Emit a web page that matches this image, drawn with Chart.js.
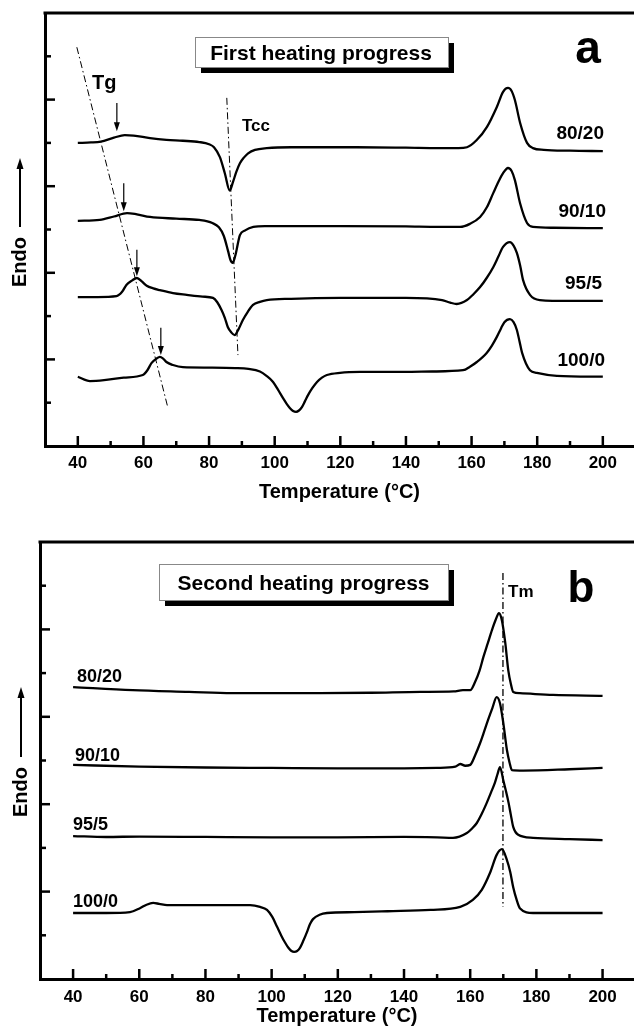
<!DOCTYPE html>
<html><head><meta charset="utf-8">
<script src="https://cdn.jsdelivr.net/npm/chart.js@4"></script>
<style>
html,body{margin:0;padding:0;background:#fff;width:634px;height:1029px;overflow:hidden}
#wa{position:absolute;left:0;top:0;width:634px;height:505px}
#wb{position:absolute;left:0;top:505px;width:634px;height:524px}
</style></head><body>
<div id="wa"><canvas id="ca"></canvas></div>
<div id="wb"><canvas id="cb"></canvas></div>
<script>
// ---------- shared axis data ----------
const xTickLabels = [40, 60, 80, 100, 120, 140, 160, 180, 200];
const xMinorTicks = [50, 70, 90, 110, 130, 150, 170, 190];
const yMajorTicks = [2, 4, 6, 8];
const yMinorTicks = [1, 3, 5, 7, 9];
const seriesLabels = ['80/20', '90/10', '95/5', '100/0'];

// ---------- panel a : first heating ----------
const a8020T = [40, 44, 47, 51, 54.3, 57, 62, 67, 72, 77, 80, 81.5, 83.3, 84.8, 86.3, 87.3, 88.3, 89.4, 90.6, 91.9, 94, 97.6, 105, 114, 125, 140, 150, 156, 158.6, 161.5, 164.7, 167.7, 169.6, 171.1, 172.2, 173.2, 174.8, 176.9, 178.7, 182, 190, 200];
const a8020V = [7.00, 7.01, 7.03, 7.12, 7.18, 7.17, 7.11, 7.07, 7.05, 7.02, 6.97, 6.9, 6.67, 6.3, 5.9, 6.1, 6.33, 6.53, 6.66, 6.76, 6.84, 6.88, 6.9, 6.9, 6.9, 6.89, 6.88, 6.88, 6.9, 7.06, 7.37, 7.83, 8.18, 8.27, 8.2, 7.99, 7.46, 7.0, 6.88, 6.84, 6.82, 6.81];

const a9010T = [40, 46.7, 51, 55, 58, 62, 70, 77, 81, 83, 84.5, 85.8, 86.5, 87.2, 88, 89.4, 91, 93.5, 97, 105, 120, 140, 150, 156.5, 159.5, 162.6, 164.7, 166.6, 168.3, 169.6, 171.1, 172.2, 173.2, 174.8, 176.9, 178.7, 185, 200];
const a9010V = [5.2, 5.22, 5.3, 5.38, 5.35, 5.29, 5.25, 5.22, 5.15, 5.05, 4.85, 4.5, 4.3, 4.23, 4.4, 4.87, 4.98, 5.06, 5.08, 5.08, 5.08, 5.07, 5.06, 5.06, 5.13, 5.29, 5.52, 5.84, 6.12, 6.3, 6.42, 6.35, 6.14, 5.6, 5.15, 5.06, 5.04, 5.03];

const a955T = [40, 46, 51.8, 53.5, 54.8, 56.5, 58, 59.5, 61, 63, 65, 69, 73.2, 78, 81.2, 82.5, 83.8, 84.8, 85.7, 86.8, 87.8, 89, 90.3, 91.8, 93.4, 95.5, 97.6, 105, 120, 140, 151, 153.5, 155.5, 158.6, 160.5, 162.6, 164.6, 166.6, 168.2, 169.6, 171.7, 172.8, 173.8, 174.8, 175.7, 177.8, 180.8, 190, 200];
const a955V = [3.44, 3.44, 3.46, 3.56, 3.72, 3.82, 3.88, 3.8, 3.7, 3.64, 3.6, 3.53, 3.49, 3.45, 3.42, 3.32, 3.14, 2.96, 2.75, 2.62, 2.56, 2.7, 2.91, 3.1, 3.26, 3.33, 3.37, 3.4, 3.42, 3.42, 3.37, 3.31, 3.28, 3.37, 3.5, 3.67, 3.88, 4.13, 4.38, 4.6, 4.71, 4.63, 4.46, 4.17, 3.83, 3.49, 3.37, 3.35, 3.35];

const a1000T = [40, 43.7, 48, 54, 59.8, 61.2, 62.5, 64, 65, 66, 67, 69, 72, 80, 88, 92, 95.5, 97.5, 99.5, 101, 102.5, 103.6, 104.6, 105.6, 106.5, 107.4, 108.3, 109.2, 110.2, 111.5, 112.9, 114.4, 115.9, 119.9, 126, 135, 148, 157.4, 159.5, 161.6, 164.6, 166.2, 167.7, 169, 170, 171.7, 172.8, 173.8, 174.6, 175.4, 177.8, 179.9, 186, 200];
const a1000V = [1.6, 1.5, 1.52, 1.58, 1.64, 1.75, 1.92, 2.02, 2.06, 2.02, 1.94, 1.87, 1.82, 1.81, 1.8, 1.78, 1.72, 1.62, 1.48, 1.3, 1.11, 0.98, 0.88, 0.81, 0.79, 0.82, 0.9, 1.03, 1.18, 1.34, 1.48, 1.58, 1.64, 1.69, 1.71, 1.71, 1.72, 1.75, 1.83, 1.94, 2.15, 2.32, 2.52, 2.72, 2.86, 2.93, 2.86, 2.68, 2.42, 2.15, 1.75, 1.69, 1.62, 1.6];

// glass-transition / cold-crystallisation guides and Tg arrows
const aTgLineT = [39.7, 67.4];
const aTgLineV = [9.21, 0.9];
const aTccLineT = [85.4, 88.8];
const aTccLineV = [8.04, 2.1];
const aArrowT = [51.9, 54.0, 58.0, 65.3];
const aArrowTopV = [7.92, 6.07, 4.53, 2.73];
const aArrowTipV = [7.27, 5.42, 3.92, 2.1];

// ---------- panel b : second heating ----------
const b8020T = [40, 58, 75, 88, 100, 114.6, 130, 145, 155, 157.8, 160, 161.5, 162.8, 164, 165.3, 166.6, 167.7, 168.7, 169.6, 170.6, 171.5, 172.3, 173, 175, 185, 200];
const b8020V = [6.68, 6.61, 6.57, 6.54, 6.54, 6.54, 6.55, 6.57, 6.58, 6.61, 6.61, 6.8, 7.05, 7.37, 7.68, 7.99, 8.22, 8.37, 8.2, 7.69, 7.07, 6.75, 6.57, 6.54, 6.5, 6.48];

const b9010T = [40, 60, 80, 100, 120, 140, 150, 155.5, 157, 158.5, 160, 161.5, 163, 164.2, 165.4, 166.7, 168, 169, 170, 171.1, 171.9, 172.6, 176, 190, 200];
const b9010V = [4.9, 4.86, 4.84, 4.83, 4.82, 4.82, 4.83, 4.86, 4.92, 4.88, 4.9, 5.12, 5.4, 5.66, 5.93, 6.2, 6.45, 6.31, 5.86, 5.24, 4.95, 4.78, 4.77, 4.8, 4.83];

const b955T = [40, 50, 60, 80, 100, 120, 140, 150, 154.8, 159, 160.5, 162, 163.5, 165, 166.3, 167.5, 168.3, 169, 170, 170.8, 171.6, 172.3, 173, 174.5, 179, 190, 200];
const b955V = [3.27, 3.25, 3.26, 3.25, 3.24, 3.24, 3.25, 3.24, 3.23, 3.34, 3.44, 3.57, 3.78, 4.03, 4.27, 4.5, 4.7, 4.85, 4.55, 4.3, 4.03, 3.75, 3.48, 3.3, 3.23, 3.2, 3.18];

const b1000T = [40, 50, 57.2, 60.2, 62.2, 64.2, 66, 68.4, 75, 85, 93.5, 96.5, 98.6, 100.2, 101.6, 103, 104, 105, 106, 106.8, 107.7, 108.6, 109.6, 110.7, 111.6, 112.5, 114.5, 116.7, 125, 135, 148, 157, 160.8, 163.5, 166, 168, 169.6, 171.1, 172.1, 173, 174, 175, 179, 190, 200];
const b1000V = [1.51, 1.51, 1.53, 1.62, 1.7, 1.74, 1.72, 1.69, 1.69, 1.69, 1.69, 1.65, 1.58, 1.42, 1.2, 0.98, 0.84, 0.72, 0.64, 0.62, 0.64, 0.72, 0.88, 1.08, 1.26, 1.37, 1.47, 1.51, 1.53, 1.55, 1.58, 1.65, 1.81, 2.04, 2.43, 2.84, 2.97, 2.72, 2.45, 2.1, 1.82, 1.62, 1.51, 1.51, 1.51];

const bTmLineT = [169.9, 169.9];
const bTmLineV = [9.29, 1.65];

// ---------- helpers ----------
const FONT = '"Liberation Sans", Arial, "DejaVu Sans", sans-serif';
function pts(T, V) { return T.map((t, i) => ({ x: t, y: V[i] })); }
function curve(label, T, V) {
  return { label, data: pts(T, V), borderColor: '#000', borderWidth: 2.3, pointRadius: 0,
           cubicInterpolationMode: 'monotone', fill: false };
}
function guide(label, T, V, w) {
  return { label, data: pts(T, V), borderColor: '#000', borderWidth: w, borderDash: [7, 3, 1.5, 3],
           pointRadius: 0, tension: 0, fill: false };
}

function decorPlugin(d) {
  return {
    id: 'decor',
    afterDraw(chart) {
      const ctx = chart.ctx, ca = chart.chartArea, xs = chart.scales.x, ys = chart.scales.y;
      ctx.save();
      ctx.strokeStyle = '#000'; ctx.fillStyle = '#000';
      // top frame line (plot is open on the right)
      ctx.lineWidth = 3;
      ctx.beginPath(); ctx.moveTo(ca.left - 1.5, ca.top); ctx.lineTo(chart.width, ca.top); ctx.stroke();
      // inward tick marks
      ctx.lineWidth = 2.5;
      const line = (x1, y1, x2, y2) => { ctx.beginPath(); ctx.moveTo(x1, y1); ctx.lineTo(x2, y2); ctx.stroke(); };
      xTickLabels.forEach(t => { const p = xs.getPixelForValue(t); line(p, ca.bottom, p, ca.bottom - 10); });
      xMinorTicks.forEach(t => { const p = xs.getPixelForValue(t); line(p, ca.bottom, p, ca.bottom - 5); });
      yMajorTicks.forEach(v => { const p = ys.getPixelForValue(v); line(ca.left, p, ca.left + 10, p); });
      yMinorTicks.forEach(v => { const p = ys.getPixelForValue(v); line(ca.left, p, ca.left + 6, p); });

      // Endo label with arrow
      ctx.lineWidth = 2;
      line(d.endo.x, d.endo.shaftBottom, d.endo.x, d.endo.tip + 8);
      ctx.beginPath();
      ctx.moveTo(d.endo.x, d.endo.tip); ctx.lineTo(d.endo.x - 3.5, d.endo.tip + 11); ctx.lineTo(d.endo.x + 3.5, d.endo.tip + 11);
      ctx.closePath(); ctx.fill();
      ctx.save();
      ctx.translate(d.endo.x, d.endo.textY); ctx.rotate(-Math.PI / 2);
      ctx.font = 'bold 20px ' + FONT; ctx.textAlign = 'center'; ctx.textBaseline = 'middle';
      ctx.fillText('Endo', 0, 0);
      ctx.restore();

      // title box with shadow
      const b = d.box;
      ctx.fillStyle = '#000'; ctx.fillRect(b.x + 6, b.y + 6, b.w, b.h);
      ctx.fillStyle = '#fff'; ctx.fillRect(b.x, b.y, b.w, b.h);
      ctx.lineWidth = 1; ctx.strokeStyle = '#888'; ctx.strokeRect(b.x + 0.5, b.y + 0.5, b.w, b.h);
      ctx.fillStyle = '#000'; ctx.font = 'bold 21px ' + FONT; ctx.textAlign = 'center'; ctx.textBaseline = 'alphabetic';
      ctx.fillText(b.text, b.tx, b.ty);

      // panel letter
      ctx.font = 'bold ' + d.letter.size + 'px ' + FONT; ctx.textAlign = 'center';
      ctx.fillText(d.letter.text, d.letter.x, d.letter.y);

      // series labels
      ctx.font = 'bold ' + d.labels.size + 'px ' + FONT; ctx.textAlign = d.labels.align;
      seriesLabels.forEach((s, i) => ctx.fillText(s, d.labels.x[i], d.labels.y[i]));

      // annotation texts
      d.texts.forEach(t => { ctx.font = 'bold ' + t.size + 'px ' + FONT; ctx.textAlign = 'left'; ctx.fillText(t.text, t.x, t.y); });

      // arrows pointing to Tg
      if (d.arrows) {
        ctx.lineWidth = 1.2; ctx.strokeStyle = '#000';
        d.arrows.T.forEach((t, i) => {
          const px = xs.getPixelForValue(t), pTop = ys.getPixelForValue(d.arrows.top[i]), pTip = ys.getPixelForValue(d.arrows.tip[i]);
          line(px, pTop, px, pTip - 6);
          ctx.beginPath(); ctx.moveTo(px, pTip); ctx.lineTo(px - 3, pTip - 9); ctx.lineTo(px + 3, pTip - 9); ctx.closePath(); ctx.fill();
        });
      }
      ctx.restore();
    }
  };
}

function makeChart(id, datasets, geo, decor) {
  return new Chart(document.getElementById(id), {
    type: 'line',
    data: { datasets },
    options: {
      responsive: true, maintainAspectRatio: false, animation: false, devicePixelRatio: 1,
      layout: { padding: { top: geo.top, left: 0, right: 0, bottom: 0 } },
      plugins: { legend: { display: false }, tooltip: { enabled: false }, title: { display: false } },
      scales: {
        x: {
          type: 'linear', min: 30, max: 209.5,
          afterBuildTicks: s => { s.ticks = xTickLabels.map(v => ({ value: v })); },
          afterFit: s => { s.height = geo.xh; },
          grid: { display: true, drawOnChartArea: false, drawTicks: false },
          border: { display: true, color: '#000', width: 3 },
          ticks: { color: '#000', font: { family: FONT, size: 17, weight: 'bold' }, padding: geo.tp,
                   maxRotation: 0, autoSkip: false },
          title: { display: true, text: 'Temperature (\u00B0C)', color: '#000',
                   font: { family: FONT, size: 20, weight: 'bold' }, padding: { top: 0, bottom: geo.tb } }
        },
        y: {
          type: 'linear', min: 0, max: 10,
          afterBuildTicks: s => { s.ticks = yMajorTicks.map(v => ({ value: v })); },
          afterFit: s => { s.width = geo.left; },
          grid: { display: true, drawOnChartArea: false, drawTicks: false },
          border: { display: true, color: '#000', width: 3 },
          ticks: { display: false }
        }
      }
    },
    plugins: [decorPlugin(decor)]
  });
}

makeChart('ca', [
  curve(seriesLabels[0], a8020T, a8020V),
  curve(seriesLabels[1], a9010T, a9010V),
  curve(seriesLabels[2], a955T, a955V),
  curve(seriesLabels[3], a1000T, a1000V),
  guide('Tg', aTgLineT, aTgLineV, 1),
  guide('Tcc', aTccLineT, aTccLineV, 1)
], { top: 13, left: 45, xh: 59, tp: 7, tb: 1 }, {
  endo: { x: 20, tip: 158, shaftBottom: 227, textY: 262 },
  box: { x: 195, y: 37, w: 253, h: 30, text: 'First heating progress', tx: 321, ty: 60 },
  letter: { text: 'a', size: 46, x: 588, y: 63 },
  labels: { size: 19, align: 'right', x: [604, 606, 602, 605], y: [139, 217, 289, 366] },
  texts: [ { text: 'Tg', size: 20, x: 92, y: 89 }, { text: 'Tcc', size: 17, x: 242, y: 131 } ],
  arrows: { T: aArrowT, top: aArrowTopV, tip: aArrowTipV }
});

makeChart('cb', [
  curve(seriesLabels[0], b8020T, b8020V),
  curve(seriesLabels[1], b9010T, b9010V),
  curve(seriesLabels[2], b955T, b955V),
  curve(seriesLabels[3], b1000T, b1000V),
  guide('Tm', bTmLineT, bTmLineV, 1.3)
], { top: 37, left: 40, xh: 50, tp: 8, tb: 1 }, {
  endo: { x: 21, tip: 182, shaftBottom: 252, textY: 287 },
  box: { x: 159, y: 59, w: 289, h: 36, text: 'Second heating progress', tx: 303.5, ty: 85 },
  letter: { text: 'b', size: 44, x: 581, y: 97 },
  labels: { size: 18, align: 'left', x: [77, 75, 73, 73], y: [177, 256, 325, 402] },
  texts: [ { text: 'Tm', size: 17, x: 508, y: 92 } ],
  arrows: null
});
</script>
</body></html>
